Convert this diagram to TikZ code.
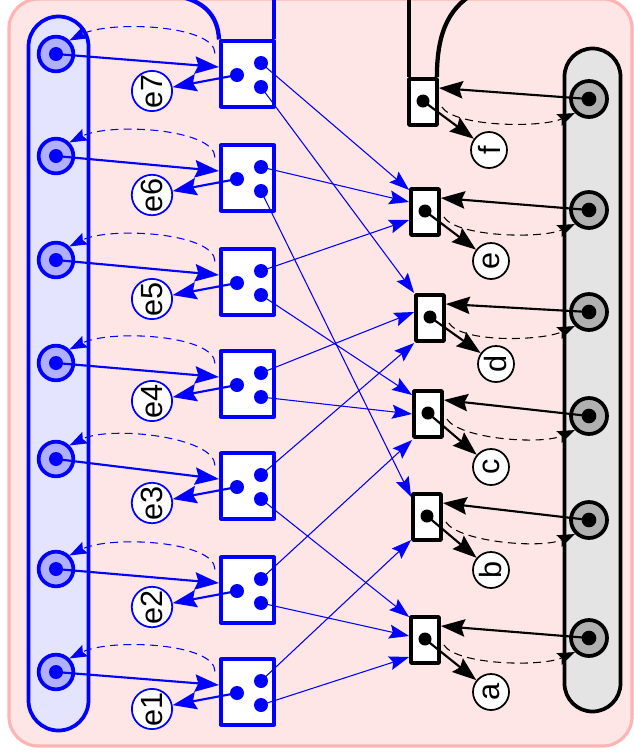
\documentclass[tikz,border=0pt]{standalone}
\usepackage{fontspec}
\setmainfont{Liberation Sans}
\usetikzlibrary{arrows.meta,calc,positioning}

\definecolor{bgpink}{RGB}{255,230,230}
\definecolor{bgline}{RGB}{255,180,180}
\definecolor{lblue}{RGB}{228,228,255}
\definecolor{mblue}{RGB}{176,176,255}
\definecolor{lgray}{RGB}{228,228,228}
\definecolor{mgray}{RGB}{176,176,176}

\begin{document}
\begin{tikzpicture}[x=0.75pt,y=-0.75pt,line join=round,
  big/.style={-{Stealth[length=18pt,width=13pt,inset=2.5pt]},line width=1.6pt},
  small/.style={-{Stealth[length=15pt,width=10.5pt,inset=2.5pt]},line width=0.8pt},
  back/.style={dash pattern=on 6pt off 4pt,-{Stealth[length=13pt,width=9.5pt,inset=2pt]},line width=0.8pt},
  place/.style={circle,draw,line width=2.8pt,minimum size=26pt,inner sep=0pt},
  tok/.style={circle,fill,minimum size=10.5pt,inner sep=0pt},
  trans/.style={draw,fill=white,line width=2.8pt,inner sep=0pt},
  lbl/.style={circle,draw,fill=white,line width=1.3pt,minimum size=27pt,inner sep=0pt,
    rotate=90,font=\fontsize{23}{23}\selectfont}]
\useasboundingbox (0,0) rectangle (634,754);

% frame and the two side bars
\draw[fill=bgpink,draw=bgline,line width=2.4pt,rounded corners=22pt] (9,-1) rectangle (632,746);
\draw[fill=lblue,draw=blue,line width=2.8pt,rounded corners=22.5pt] (28.5,16.5) rectangle (88.5,730.5);
\draw[fill=lgray,line width=2.8pt,rounded corners=21pt] (564.5,48.5) rectangle (620.5,711.5);

% blue column: places, transitions, outputs
\foreach \i/\py/\by in {1/672/692,2/569/590,3/459/486,4/363/384,5/260/282,6/156/178,7/54/74}{
  \node[place,draw=blue,fill=mblue] (p\i) at (56,\py) {};
  \node[tok,blue] at (p\i) {};
  \node[trans,draw=blue,minimum width=40pt,minimum height=49pt] (t\i) at (247.5,\by) {};
  \node[tok,blue] (c\i) at ($(t\i)+(-10.5,1)$) {};
  \node[tok,blue] (u\i) at ($(t\i)+(13.5,-11)$) {};
  \node[tok,blue] (l\i) at ($(t\i)+(13.5,13)$) {};
  \node[lbl,draw=blue] (e\i) at (152,\by+17) {e\i};
  \draw[big,blue] (p\i.center) -- ($(t\i.west)+(0,-7)$);
  \draw[big,blue] (c\i.center) -- (e\i);
  \draw[back,blue] ($(t\i.north west)+(-4,14)$) .. controls +(0,-29) and +(40,-20) .. (p\i.north east);
}

% black column
\foreach \nm/\tx/\ty/\qy/\lx/\ly in {f/423/102/99/489/150,e/425/212/210/491/261,d/430/318/312/496/364,
  c/428/414/416/491/467,b/427/517/520/491/570,a/425/640/638/491/692}{
  \node[trans,minimum width=21pt,minimum height=34.5pt] (t\nm) at (\tx,\ty) {};
  \node[tok,minimum size=9.75pt] (k\nm) at ($(t\nm)+(0,-1)$) {};
  \node[place,fill=mgray,minimum size=27pt] (q\nm) at (589,\qy) {};
  \node[tok,minimum size=11pt] at (q\nm) {};
  \node[lbl] (o\nm) at (\lx,\ly) {\nm};
  \draw[big] (q\nm.center) -- ($(t\nm.east)+(0,-14)$);
  \draw[big] (k\nm.center) -- (o\nm);
  \draw[back] ($(t\nm.east)+(3,5)$) .. controls +(13,20) and +(-34,15) .. (q\nm.south west);
}

% arcs between the columns
\foreach \s/\t/\o in {u7/e/-22,u6/e/-10,u5/e/8,l7/d/-25,u4/d/-6,u3/d/25,l5/c/-19,l4/c/0,
  u2/c/26,l6/b/-20,u1/b/23,l3/a/-23,l2/a/-4,l1/a/17}
  \draw[small,blue] (\s.center) -- ($(t\t.west)+(0,\o)$);

% links leaving at the top
\draw[blue,line width=3.2pt] (t7.north west) .. controls (218,15) and (203,0) .. (176,-4);
\draw[blue,line width=3.2pt] ($(t7.north east)+(-2,0)$) -- ++(0,-60);
\draw[line width=3.2pt] ($(tf.north west)+(2,0)$) -- ++(0,-100);
\draw[line width=3.2pt] ($(tf.north east)+(-2,0)$) .. controls (437,30) and (450,5) .. (480,-10);
\end{tikzpicture}
\end{document}
